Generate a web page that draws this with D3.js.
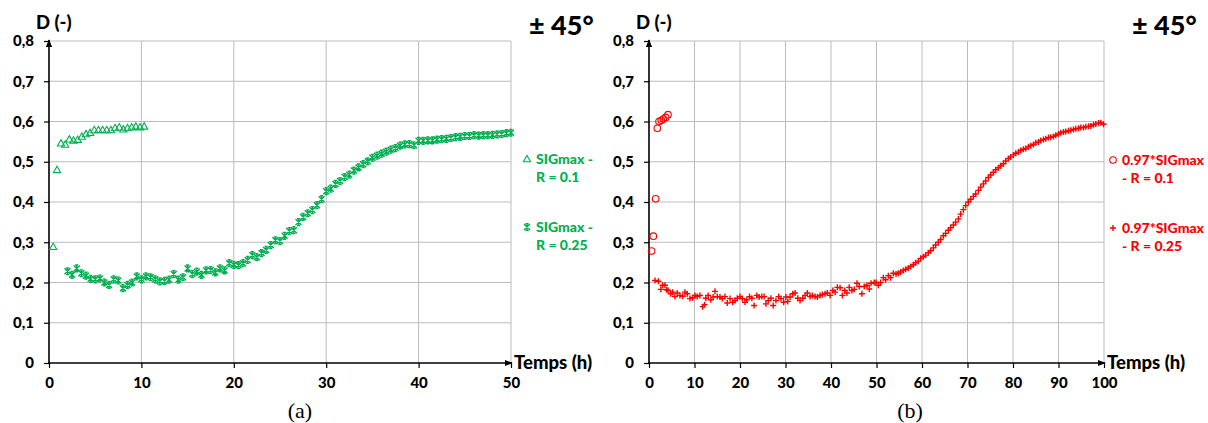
<!DOCTYPE html>
<html lang="fr">
<head>
<meta charset="UTF-8">
<title>D(t) ± 45°</title>
<script src="https://d3js.org/d3.v7.min.js"></script>
<style>
  body { margin: 0; background: #fff; }
  svg text { font-family: Lato, "Open Sans", sans-serif; font-weight: 900; }
  .grid line { stroke: #bcbcbc; stroke-width: 1; }
  .tick-label { font-size: 15px; fill: #000; }
  .caption { font-family: "Liberation Serif", "DejaVu Serif", serif !important; font-weight: normal !important; font-size: 22px; }
</style>
</head>
<body>
<svg id="chart" width="1208" height="423"></svg>
<script>
// ---- data: [time (h), D (-)] ----
const greenR01 = [
  [0.45, 0.289], [0.87, 0.48], [1.3, 0.546], [1.75, 0.543], [2.2, 0.556], [2.65, 0.553],
  [3.1, 0.555], [3.55, 0.563], [4.0, 0.569], [4.45, 0.572], [4.9, 0.579], [5.35, 0.579],
  [5.8, 0.579], [6.25, 0.579], [6.7, 0.579], [7.15, 0.584], [7.6, 0.586], [8.05, 0.581],
  [8.5, 0.584], [8.95, 0.586], [9.4, 0.588], [9.85, 0.586], [10.3, 0.588]
];

const greenR025 = [
  [2, 0.228], [2.5, 0.219], [3, 0.235], [3.5, 0.223], [4, 0.217], [4.5, 0.209], [5, 0.208],
  [5.5, 0.21], [6, 0.2], [6.5, 0.194], [7, 0.208], [7.5, 0.205], [8, 0.186], [8.5, 0.194],
  [9, 0.2], [9.5, 0.215], [10, 0.208], [10.5, 0.215], [11, 0.213], [11.5, 0.208], [12, 0.203],
  [12.5, 0.204], [13, 0.207], [13.5, 0.221], [14, 0.207], [14.5, 0.213], [15, 0.235],
  [15.5, 0.221], [16, 0.227], [16.5, 0.219], [17, 0.23], [17.5, 0.231], [18, 0.225],
  [18.5, 0.235], [19, 0.23], [19.5, 0.248], [20, 0.244], [20.5, 0.243], [21, 0.248],
  [21.5, 0.256], [22, 0.268], [22.5, 0.263], [23, 0.273], [23.5, 0.281], [24, 0.293],
  [24.5, 0.305], [25, 0.303], [25.5, 0.316], [26, 0.328], [26.5, 0.33], [27, 0.35],
  [27.5, 0.363], [28, 0.372], [28.5, 0.38], [29, 0.392], [29.5, 0.407], [30, 0.427],
  [30.5, 0.433], [31, 0.445], [31.5, 0.452], [32, 0.462], [32.5, 0.468], [33, 0.478],
  [33.5, 0.486], [34, 0.494], [34.5, 0.501], [35, 0.51], [35.5, 0.515], [36, 0.52],
  [36.5, 0.525], [37, 0.53], [37.5, 0.534], [38, 0.54], [38.5, 0.543], [39, 0.544],
  [39.5, 0.541], [40, 0.552], [40.5, 0.552], [41, 0.553], [41.5, 0.553], [42, 0.555],
  [42.5, 0.556], [43, 0.557], [43.5, 0.559], [44, 0.561], [44.5, 0.562], [45, 0.564],
  [45.5, 0.564], [46, 0.566], [46.5, 0.565], [47, 0.566], [47.5, 0.566], [48, 0.567],
  [48.5, 0.568], [49, 0.569], [49.5, 0.571], [50, 0.572]
];

const redR01 = [
  [0.58, 0.278], [0.95, 0.315], [1.46, 0.408], [1.83, 0.583], [2.2, 0.6],
  [2.71, 0.603], [3.15, 0.606], [3.66, 0.61], [4.17, 0.617]
];

const redR025 = [
  [1.33, 0.205], [2.07, 0.203], [2.6, 0.183], [3.0, 0.193], [3.5, 0.193], [3.9, 0.182],
  [4.2, 0.18], [4.76, 0.172], [5.2, 0.176], [5.7, 0.165], [6.2, 0.174], [6.8, 0.168],
  [7.4, 0.166], [7.9, 0.176], [8.4, 0.172], [9.0, 0.16], [9.6, 0.162], [10.1, 0.168],
  [10.6, 0.165], [11.2, 0.168], [11.8, 0.14], [12.2, 0.145], [12.5, 0.161], [13.0, 0.168],
  [13.6, 0.157], [14.1, 0.164], [14.5, 0.178], [15.0, 0.165], [15.6, 0.164], [16.1, 0.16],
  [16.7, 0.165], [17.2, 0.149], [17.8, 0.16], [18.4, 0.151], [18.9, 0.155], [19.4, 0.161],
  [20.0, 0.165], [20.5, 0.16], [21.1, 0.151], [21.5, 0.157], [22.1, 0.165], [22.6, 0.161],
  [23.1, 0.143], [23.7, 0.168], [24.2, 0.164], [24.8, 0.165], [25.3, 0.165], [25.7, 0.147],
  [26.2, 0.155], [26.8, 0.161], [27.3, 0.143], [27.9, 0.155], [28.5, 0.165], [29.0, 0.16],
  [29.6, 0.151], [30.1, 0.164], [30.5, 0.153], [31.0, 0.164], [31.6, 0.172], [32.1, 0.174],
  [32.7, 0.161], [33.2, 0.155], [33.8, 0.161], [34.3, 0.168], [34.8, 0.174], [35.4, 0.165],
  [35.9, 0.168], [36.5, 0.165], [37.0, 0.164], [37.6, 0.168], [38.1, 0.17], [38.7, 0.172],
  [39.2, 0.174], [39.8, 0.168], [40.4, 0.18], [40.9, 0.176], [41.4, 0.188], [42.0, 0.187],
  [42.5, 0.168], [43.0, 0.18], [43.5, 0.174], [44.0, 0.188], [44.6, 0.18], [45.1, 0.183],
  [45.7, 0.198], [46.2, 0.19], [46.8, 0.172], [47.3, 0.19], [47.9, 0.193], [48.4, 0.184],
  [48.8, 0.198], [49.5, 0.2], [49.9, 0.2], [50.4, 0.193], [50.9, 0.2], [51.5, 0.212],
  [52.0, 0.207], [52.6, 0.217], [53.1, 0.212], [53.7, 0.223], [54.3, 0.221], [54.8, 0.223],
  [55.3, 0.226], [55.9, 0.23], [56.4, 0.233], [57.0, 0.236], [57.5, 0.24], [58.1, 0.244],
  [58.6, 0.249], [59.2, 0.253], [59.7, 0.26], [60.3, 0.264], [60.8, 0.268], [61.4, 0.274],
  [61.9, 0.279], [62.5, 0.286], [63.0, 0.293], [63.6, 0.3], [64.1, 0.307], [64.7, 0.316],
  [65.2, 0.322], [65.8, 0.33], [66.3, 0.336], [66.9, 0.343], [67.4, 0.35], [68.0, 0.358],
  [68.5, 0.37], [69.1, 0.381], [69.6, 0.391], [70.2, 0.4], [70.7, 0.407], [71.3, 0.414],
  [71.8, 0.42], [72.4, 0.429], [72.9, 0.437], [73.5, 0.445], [74.0, 0.452], [74.6, 0.461],
  [75.1, 0.467], [75.7, 0.474], [76.2, 0.48], [76.8, 0.485], [77.3, 0.49], [77.9, 0.495],
  [78.4, 0.502], [79.0, 0.508], [79.5, 0.512], [80.1, 0.517], [80.6, 0.521], [81.2, 0.524],
  [81.7, 0.528], [82.3, 0.531], [82.8, 0.533], [83.4, 0.537], [83.9, 0.54], [84.5, 0.543],
  [85.0, 0.547], [85.6, 0.549], [86.1, 0.553], [86.7, 0.555], [87.2, 0.557], [87.8, 0.56],
  [88.3, 0.561], [88.9, 0.563], [89.4, 0.566], [90.0, 0.569], [90.5, 0.572], [91.1, 0.574],
  [91.6, 0.575], [92.2, 0.577], [92.7, 0.578], [93.3, 0.58], [93.8, 0.582], [94.4, 0.583],
  [94.9, 0.585], [95.5, 0.585], [96.0, 0.587], [96.6, 0.588], [97.1, 0.589], [97.7, 0.592],
  [98.2, 0.594], [98.8, 0.596], [99.3, 0.597], [99.9, 0.593]
];

const yTicks = [0, 0.1, 0.2, 0.3, 0.4, 0.5, 0.6, 0.7, 0.8];
const xTicksA = [0, 10, 20, 30, 40, 50];
const xTicksB = [0, 10, 20, 30, 40, 50, 60, 70, 80, 90, 100];

const green = "#00b050";
const red = "#ff0000";

const svg = d3.select("#chart");

svg.append("defs").append("marker")
    .attr("id", "arrow")
    .attr("viewBox", "0 0 10 10")
    .attr("refX", 9).attr("refY", 5)
    .attr("markerWidth", 5).attr("markerHeight", 5)
    .attr("orient", "auto")
  .append("path")
    .attr("d", "M0,1 L10,5 L0,9 z")
    .attr("fill", "#000");

// marker shapes drawn around (0,0)
const shapes = {
  triangle: "M0,-3.6 L3.6,2.8 L-3.6,2.8 Z",
  star: "M-3,-3 L3,3 M-3,3 L3,-3 M0,-3.4 L0,3.4 M-1.6,-3.4 L1.6,-3.4 M-1.6,3.4 L1.6,3.4",
  plus: "M-3,0 L3,0 M0,-3 L0,3"
};

function drawMarks(g, data, x, y, type, color) {
  if (type === "circle") {
    g.selectAll(null).data(data).join("circle")
      .attr("cx", d => x(d[0])).attr("cy", d => y(d[1]))
      .attr("r", 3.3)
      .attr("fill", "none").attr("stroke", color).attr("stroke-width", 1.1);
  } else {
    g.selectAll(null).data(data).join("path")
      .attr("transform", d => `translate(${x(d[0])},${y(d[1])})`)
      .attr("d", shapes[type])
      .attr("fill", "none").attr("stroke", color)
      .attr("stroke-width", type === "triangle" ? 1.1 : 1.4);
  }
}

function drawPanel(p) {
  const x = d3.scaleLinear().domain([0, p.xMax]).range([p.left, p.right]);
  const y = d3.scaleLinear().domain([0, 0.8]).range([363, 41]);
  const g = svg.append("g");

  // grid
  const grid = g.append("g").attr("class", "grid");
  grid.selectAll(null).data(p.xTicks.slice(1)).join("line")
    .attr("x1", d => x(d)).attr("x2", d => x(d))
    .attr("y1", y(0)).attr("y2", y(0.8));
  grid.selectAll(null).data(yTicks.slice(1)).join("line")
    .attr("x1", x(0)).attr("x2", x(p.xMax))
    .attr("y1", d => y(d)).attr("y2", d => y(d));

  // axes
  const yAxis = d3.axisLeft(y).tickValues(yTicks).tickSize(5)
    .tickFormat(d => d3.format(".1f")(d).replace(".", ",").replace("0,0", "0"));
  const yg = g.append("g").attr("transform", `translate(${x(0)},0)`).call(yAxis);
  yg.select(".domain").remove();
  yg.selectAll(".tick line").attr("stroke", "#000").attr("stroke-width", 1.2);
  yg.selectAll(".tick text").attr("class", "tick-label").attr("x", -15);

  const xAxis = d3.axisBottom(x).tickValues(p.xTicks).tickSize(5).tickFormat(d3.format("d"));
  const xg = g.append("g").attr("transform", `translate(0,${y(0)})`).call(xAxis);
  xg.select(".domain").remove();
  xg.selectAll(".tick line").attr("stroke", "#000").attr("stroke-width", 1.2);
  xg.selectAll(".tick text").attr("class", "tick-label").attr("y", 14);

  g.append("line")
    .attr("x1", x(0)).attr("x2", x(0)).attr("y1", y(0) + 1).attr("y2", y(0.8) - 1)
    .attr("stroke", "#000").attr("stroke-width", 1.6).attr("marker-end", "url(#arrow)");
  g.append("line")
    .attr("x1", x(0) - 1).attr("x2", x(p.xMax) + 1).attr("y1", y(0)).attr("y2", y(0))
    .attr("stroke", "#000").attr("stroke-width", 1.6).attr("marker-end", "url(#arrow)");

  // series
  p.series.forEach(s => drawMarks(g.append("g"), s.data, x, y, s.type, p.color));

  // titles
  g.append("text").attr("x", x(0) - 13).attr("y", 29).attr("font-size", 18.5).text("D (-)");
  g.append("text").attr("x", p.degX).attr("y", 35).attr("font-size", 27).text("± 45°");
  g.append("text").attr("x", p.right + 3).attr("y", 369).attr("font-size", 18.5).text("Temps (h)");
  g.append("text").attr("class", "caption").attr("x", p.capX).attr("y", 418)
    .attr("text-anchor", "middle").text(p.caption);

  // legend
  p.series.forEach((s, i) => {
    const ly = p.legendY[i];
    drawMarks(g.append("g"), [[0, 0]], () => p.legendX, () => ly, s.type, p.color);
    s.label.forEach((line, j) => {
      g.append("text").attr("x", p.legendX + 9).attr("y", ly + 5 + j * 18)
        .attr("font-size", 14).attr("fill", p.color).text(line);
    });
  });
}

drawPanel({
  left: 49, right: 511, xMax: 50, xTicks: xTicksA, color: green,
  degX: 529, capX: 300, caption: "(a)", legendX: 527, legendY: [159, 227],
  series: [
    { data: greenR01, type: "triangle", label: ["SIGmax -", "R = 0.1"] },
    { data: greenR025, type: "star", label: ["SIGmax -", "R = 0.25"] }
  ]
});

drawPanel({
  left: 649, right: 1104, xMax: 100, xTicks: xTicksB, color: red,
  degX: 1132, capX: 910, caption: "(b)", legendX: 1113, legendY: [160, 228],
  series: [
    { data: redR01, type: "circle", label: ["0.97*SIGmax", "- R = 0.1"] },
    { data: redR025, type: "plus", label: ["0.97*SIGmax", "- R = 0.25"] }
  ]
});
</script>
</body>
</html>
